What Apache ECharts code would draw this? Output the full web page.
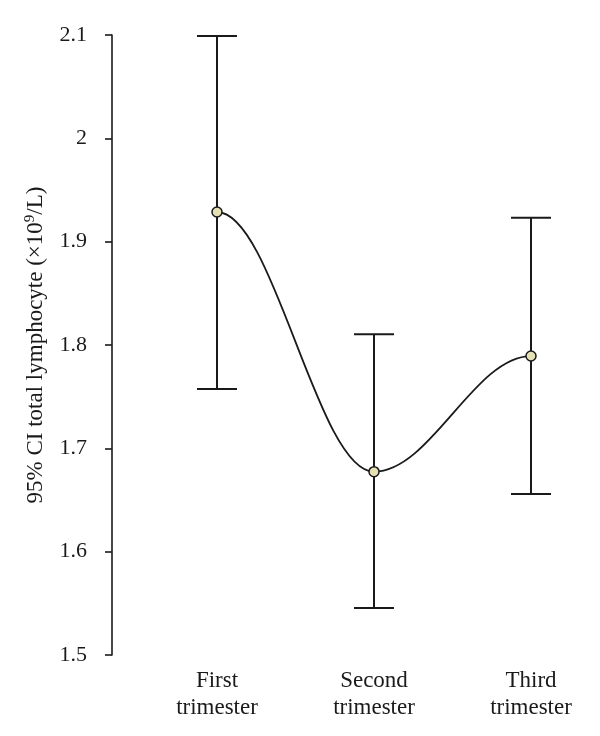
<!DOCTYPE html>
<html>
<head>
<meta charset="utf-8">
<script src="https://cdn.jsdelivr.net/npm/echarts@6/dist/echarts.min.js"></script>
<style>html,body{margin:0;padding:0;background:#fff}#c{width:600px;height:736px}</style>
</head>
<body>
<div id="c"></div>
<script>
var categories = ['First\ntrimester', 'Second\ntrimester', 'Third\ntrimester'];
var means = [1.9287, 1.6774, 1.7893];
var lower = [1.7574, 1.5455, 1.6558];
var upper = [2.0990, 1.8103, 1.9232];
var yTicks = { min: 1.5, max: 2.1, interval: 0.1 };

var errData = categories.map(function (c, i) { return [i, lower[i], upper[i]]; });
var meanData = categories.map(function (c, i) { return [i, means[i]]; });
var font = '"Liberation Serif", "DejaVu Serif", serif';
var ink = '#1a1a1a';

var chart = echarts.init(document.getElementById('c'));
chart.setOption({
  animation: false,
  backgroundColor: '#fff',
  grid: { left: 217, right: 69, top: 35, bottom: 81, containLabel: false },
  xAxis: {
    type: 'category',
    data: categories,
    boundaryGap: false,
    axisLine: { show: false },
    axisTick: { show: false },
    splitLine: { show: false },
    axisLabel: { color: ink, fontFamily: font, fontSize: 23, lineHeight: 27, margin: 12 }
  },
  yAxis: {
    type: 'value',
    min: yTicks.min, max: yTicks.max, interval: yTicks.interval,
    offset: 105,
    axisLine: { show: true, lineStyle: { color: ink, width: 1.6 } },
    axisTick: { show: true, length: 7, lineStyle: { color: ink, width: 1.6 } },
    splitLine: { show: false },
    axisLabel: {
      color: ink, fontFamily: font, fontSize: 22, margin: 25,
      formatter: function (v) { return String(+v.toFixed(1)); }
    },
    name: '{a|95% CI total lymphocyte (×10}{s|9}{a|/L)}',
    nameLocation: 'middle',
    nameGap: 65,
    nameRotate: 90,
    nameTextStyle: {
      color: ink, fontFamily: font, fontSize: 23,
      rich: {
        a: { color: ink, fontFamily: font, fontSize: 23, lineHeight: 24, verticalAlign: 'bottom' },
        s: { color: ink, fontFamily: font, fontSize: 15, lineHeight: 24, verticalAlign: 'top' }
      }
    }
  },
  series: [
    {
      type: 'custom',
      clip: false,
      z: 2,
      data: errData,
      encode: { x: 0, y: [1, 2] },
      renderItem: function (params, api) {
        var x = api.value(0);
        var lo = api.coord([x, api.value(1)]);
        var hi = api.coord([x, api.value(2)]);
        var hw = 20;
        var st = { stroke: ink, lineWidth: 2 };
        return {
          type: 'group',
          children: [
            { type: 'line', shape: { x1: lo[0], y1: lo[1], x2: hi[0], y2: hi[1] }, style: st },
            { type: 'line', shape: { x1: hi[0] - hw, y1: hi[1], x2: hi[0] + hw, y2: hi[1] }, style: st },
            { type: 'line', shape: { x1: lo[0] - hw, y1: lo[1], x2: lo[0] + hw, y2: lo[1] }, style: st }
          ]
        };
      }
    },
    {
      type: 'custom',
      clip: false,
      z: 3,
      data: meanData,
      encode: { x: 0, y: 1 },
      renderItem: function (params, api) {
        var i = params.dataIndex;
        if (i >= means.length - 1) return { type: 'group', children: [] };
        var p0 = api.coord([i, means[i]]);
        var p1 = api.coord([i + 1, means[i + 1]]);
        var h = (p1[0] - p0[0]) * 0.36;
        return {
          type: 'bezierCurve',
          shape: {
            x1: p0[0], y1: p0[1],
            cpx1: p0[0] + h, cpy1: p0[1],
            cpx2: p1[0] - h, cpy2: p1[1],
            x2: p1[0], y2: p1[1]
          },
          style: { stroke: ink, lineWidth: 1.8, fill: null }
        };
      }
    },
    {
      type: 'line',
      data: means,
      z: 4,
      clip: false,
      symbol: 'circle',
      symbolSize: 10,
      showSymbol: true,
      lineStyle: { width: 0, opacity: 0 },
      itemStyle: { color: '#e6e1b4', borderColor: ink, borderWidth: 1.5 }
    }
  ]
});
</script>
</body>
</html>
